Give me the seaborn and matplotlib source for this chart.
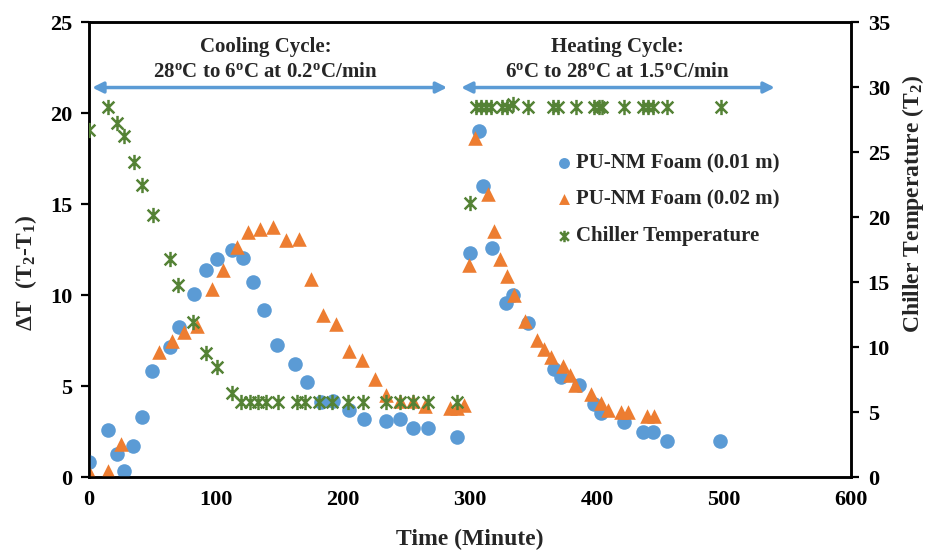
import matplotlib
matplotlib.use("Agg")
import matplotlib.pyplot as plt
import seaborn as sns
from matplotlib.path import Path

sns.set_theme(style="white")
plt.rcParams["font.family"] = ["Liberation Serif", "DejaVu Serif"]
plt.rcParams["font.weight"] = "bold"
plt.rcParams["axes.labelweight"] = "bold"
plt.rcParams["mathtext.fontset"] = "custom"
plt.rcParams["mathtext.rm"] = "Liberation Serif:bold"
plt.rcParams["mathtext.it"] = "Liberation Serif:bold"
plt.rcParams["mathtext.bf"] = "Liberation Serif:bold"

# PU-NM foam, 0.01 m thick: time (min) and temperature difference (T2-T1)
t_foam_01 = [0, 15, 22, 27.5, 35, 41.5, 50, 64, 71, 82.5,
             92.5, 100.5, 112.5, 121, 129.5, 137.5, 148, 162.5, 171.5, 183,
             192, 204.5, 216.5, 234, 244.5, 255, 267, 289.5, 300, 307,
             310, 317, 328.5, 334, 346, 366, 371.5, 385.5, 398, 403.5,
             421, 436, 444, 455, 497]
dt_foam_01 = [0.85, 2.6, 1.25, 0.35, 1.7, 3.3, 5.8, 7.15, 8.25, 10.05,
              11.4, 12.0, 12.5, 12.05, 10.7, 9.2, 7.25, 6.2, 5.2, 4.1,
              4.15, 3.7, 3.2, 3.1, 3.2, 2.7, 2.7, 2.2, 12.3, 19.0,
              16.0, 12.6, 9.55, 10.0, 8.45, 5.95, 5.5, 5.05, 4.0, 3.5,
              3.0, 2.5, 2.5, 2.0, 2.0]

# PU-NM foam, 0.02 m thick
t_foam_02 = [0, 15, 25.5, 55, 65, 75, 85, 97, 105.5, 116.5,
             125.5, 135, 145, 155, 165, 174.5, 184.5, 194.5, 204.5, 215,
             225, 234, 244.5, 255, 264.5, 284, 290, 295.5, 299, 304,
             314.5, 319, 324, 329, 334.5, 343.5, 353, 358.5, 363.5, 373.5,
             379, 383, 395, 403.5, 409, 419, 424.5, 439, 445]
dt_foam_02 = [0.3, 0.35, 1.8, 6.85, 7.5, 7.95, 8.3, 10.35, 11.4, 12.65,
              13.45, 13.6, 13.75, 13.0, 13.1, 10.9, 8.9, 8.4, 6.9, 6.45,
              5.4, 4.5, 4.15, 4.15, 3.9, 3.8, 3.8, 3.95, 11.65, 18.65,
              15.55, 13.5, 12.0, 11.05, 10.0, 8.55, 7.55, 7.05, 6.6, 6.1,
              5.6, 5.05, 4.55, 4.05, 3.7, 3.55, 3.55, 3.35, 3.35]

# Chiller temperature T2 (right axis)
t_chiller = [0, 15, 22, 27.5, 35.5, 41.5, 50.5, 64, 70, 82,
             92.5, 100.5, 112.5, 120, 126.5, 133, 139.5, 149, 163.5, 170,
             181.5, 191, 204, 216, 234, 244.5, 255, 267, 289.5, 300,
             304.5, 308.5, 312.5, 316.5, 325.5, 329.5, 334, 345.5, 365, 369,
             383.5, 397.5, 401.5, 404, 421.5, 436, 440, 444, 455.5, 497.5]
temp_chiller = [26.7, 28.5, 27.2, 26.2, 24.25, 22.5, 20.15, 16.75, 14.8, 11.9,
                9.55, 8.45, 6.45, 5.8, 5.8, 5.8, 5.8, 5.8, 5.8, 5.8,
                5.8, 5.8, 5.8, 5.8, 5.8, 5.8, 5.8, 5.8, 5.8, 21.1,
                28.5, 28.5, 28.5, 28.5, 28.5, 28.5, 28.7, 28.5, 28.5, 28.5,
                28.5, 28.5, 28.5, 28.5, 28.5, 28.5, 28.5, 28.5, 28.5, 28.5]

series_labels = ["PU-NM Foam (0.01 m)", "PU-NM Foam (0.02 m)", "Chiller Temperature"]
x_ticks = [0, 100, 200, 300, 400, 500, 600]
left_ticks = [0, 5, 10, 15, 20, 25]
right_ticks = [0, 5, 10, 15, 20, 25, 30, 35]

BLUE = "#5B9BD5"
ORANGE = "#ED7D31"
GREEN = "#548235"

# six-armed asterisk: an X crossed by a vertical bar
star = Path([(-1, -1), (1, 1), (-1, 1), (1, -1), (0, -1.3), (0, 1.3)],
            [Path.MOVETO, Path.LINETO, Path.MOVETO, Path.LINETO, Path.MOVETO, Path.LINETO])

fig = plt.figure(figsize=(9.25, 5.53), dpi=100)
ax = fig.add_axes([0.0962, 0.1374, 0.8238, 0.8228])
ax2 = ax.twinx()

sns.scatterplot(x=t_foam_01, y=dt_foam_01, ax=ax, marker="o", color=BLUE,
                s=110, linewidth=0, label=series_labels[0], zorder=3)
sns.scatterplot(x=t_foam_02, y=dt_foam_02, ax=ax, marker="^", color=ORANGE,
                s=110, linewidth=0, label=series_labels[1], zorder=3)
sns.scatterplot(x=t_chiller, y=temp_chiller, ax=ax2, marker=star, color=GREEN,
                edgecolor=GREEN, s=120, linewidth=1.8, label=series_labels[2], zorder=3)

for a in (ax, ax2):
    if a.get_legend() is not None:
        a.get_legend().remove()

ax.set_xlim(0, 600)
ax.set_ylim(0, 25)
ax2.set_ylim(0, 35)
ax.set_xticks(x_ticks)
ax.set_yticks(left_ticks)
ax2.set_yticks(right_ticks)

for a in (ax, ax2):
    for sp in a.spines.values():
        sp.set_visible(True)
        sp.set_color("black")
        sp.set_linewidth(1.8)

ax.tick_params(axis="x", direction="in", length=6, width=1.6, labelsize=16, pad=9, colors="black")
ax.tick_params(axis="y", direction="out", length=6, width=1.6, labelsize=16, pad=6, colors="black")
ax2.tick_params(axis="y", direction="out", length=6, width=1.6, labelsize=16, pad=6, colors="black")
for lbl in ax.get_xticklabels() + ax.get_yticklabels() + ax2.get_yticklabels():
    lbl.set_fontweight("bold")

ax.set_xlabel("Time (Minute)", fontsize=17, fontweight="bold", labelpad=14)
ax.set_ylabel(r"$\Delta$T  (T$_2$-T$_1$)", fontsize=17, fontweight="bold")
ax.yaxis.set_label_coords(-0.066, 0.45)
ax2.set_ylabel("Chiller Temperature (T$_2$)", fontsize=17, fontweight="bold")
ax2.yaxis.set_label_coords(1.064, 0.6)

# cycle annotations with double-headed arrows
arrow_kw = dict(arrowstyle="<|-|>", color=BLUE, lw=2.5, mutation_scale=16, shrinkA=0, shrinkB=0)
ax.annotate("", xy=(2.5, 21.4), xytext=(282, 21.4), arrowprops=arrow_kw)
ax.annotate("", xy=(293, 21.4), xytext=(540, 21.4), arrowprops=arrow_kw)
ax.text(139, 23.6, "Cooling Cycle:", ha="center", va="center", fontsize=15, fontweight="bold")
ax.text(139, 22.25, "28$^{\\mathrm{o}}$C to 6$^{\\mathrm{o}}$C at 0.2$^{\\mathrm{o}}$C/min",
        ha="center", va="center", fontsize=15, fontweight="bold")
ax.text(416, 23.6, "Heating Cycle:", ha="center", va="center", fontsize=15, fontweight="bold")
ax.text(416, 22.25, "6$^{\\mathrm{o}}$C to 28$^{\\mathrm{o}}$C at 1.5$^{\\mathrm{o}}$C/min",
        ha="center", va="center", fontsize=15, fontweight="bold")

h1, l1 = ax.get_legend_handles_labels()
h2, l2 = ax2.get_legend_handles_labels()
leg = ax.legend(h1 + h2, l1 + l2, loc="upper left", bbox_to_anchor=(0.615, 0.712),
                frameon=False, fontsize=15, markerscale=0.75, handlelength=0.6,
                handletextpad=0.3, labelspacing=0.8, borderpad=0, borderaxespad=0)
for txt in leg.get_texts():
    txt.set_fontweight("bold")
leg.set_zorder(5)

fig.savefig("out.png", dpi=100)
